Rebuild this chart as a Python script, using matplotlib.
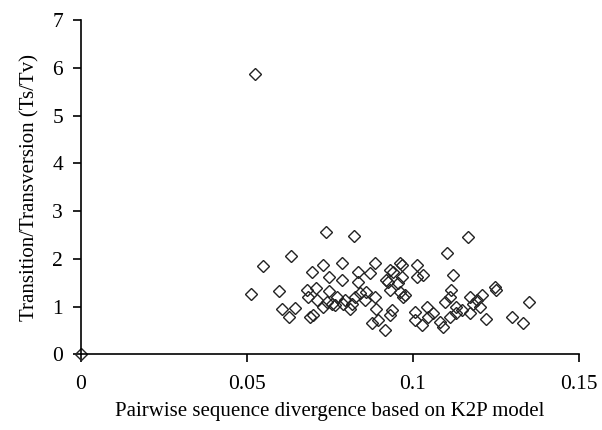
import matplotlib
matplotlib.use('Agg')
import matplotlib.pyplot as plt

plt.rcParams['font.family'] = ['Liberation Serif', 'DejaVu Serif']

# pairwise K2P divergence vs Ts/Tv ratio
divergence = [0.0, 0.0524, 0.0512, 0.0549, 0.0597, 0.0607, 0.0627, 0.0633, 0.0645, 0.0680,
              0.0684, 0.0690, 0.0695, 0.0700, 0.0707, 0.0712, 0.0730, 0.0730, 0.0737, 0.0740,
              0.0748, 0.0748, 0.0755, 0.0765, 0.0770, 0.0785, 0.0785, 0.0790, 0.0795, 0.0810,
              0.0815, 0.0822, 0.0825, 0.0835, 0.0835, 0.0842, 0.0855, 0.0860, 0.0870, 0.0876,
              0.0886, 0.0886, 0.0890, 0.0896, 0.0916, 0.0920, 0.0926, 0.0930, 0.0930, 0.0930,
              0.0936, 0.0940, 0.0956, 0.0961, 0.0961, 0.0966, 0.0966, 0.0971, 0.0976, 0.1006,
              0.1006, 0.1011, 0.1011, 0.1026, 0.1031, 0.1041, 0.1046, 0.1061, 0.1081, 0.1091,
              0.1096, 0.1104, 0.1111, 0.1111, 0.1116, 0.1120, 0.1131, 0.1131, 0.1147, 0.1165,
              0.1172, 0.1172, 0.1180, 0.1192, 0.1202, 0.1207, 0.1220, 0.1247, 0.1250, 0.1297,
              0.1332, 0.1350]
tstv = [0.00, 5.88, 1.27, 1.86, 1.32, 0.94, 0.79, 2.07, 0.98, 1.35,
        1.21, 0.79, 1.73, 0.82, 1.38, 1.14, 1.87, 1.00, 2.57, 1.10,
        1.63, 1.33, 1.05, 1.03, 1.20, 1.92, 1.56, 1.05, 1.14, 0.96,
        1.05, 2.47, 1.20, 1.73, 1.52, 1.28, 1.14, 1.30, 1.70, 0.65,
        1.91, 1.21, 0.96, 0.72, 0.52, 1.56, 1.52, 1.77, 1.35, 0.82,
        0.93, 1.73, 1.49, 1.91, 1.31, 1.63, 1.87, 1.21, 1.24, 0.89,
        0.72, 1.87, 1.63, 0.61, 1.66, 1.00, 0.79, 0.86, 0.68, 0.58,
        1.10, 2.13, 1.21, 0.79, 1.35, 1.66, 1.00, 0.86, 0.93, 2.45,
        1.21, 0.86, 1.05, 1.14, 1.00, 1.24, 0.73, 1.42, 1.35, 0.78,
        0.66, 1.10]

xticks = [0, 0.05, 0.1, 0.15]
xticklabels = ['0', '0.05', '0.1', '0.15']
yticks = [0, 1, 2, 3, 4, 5, 6, 7]

fig = plt.figure(figsize=(6.02, 4.30), dpi=100)
ax = fig.add_axes([0.1346, 0.176, 0.827, 0.7766])
ax.plot(divergence, tstv, linestyle='none', marker='D', markersize=6.5,
        markerfacecolor='none', markeredgecolor='#222222', markeredgewidth=1.0,
        clip_on=False)

ax.set_xlim(0, 0.15)
ax.set_ylim(0, 7)
ax.set_xticks(xticks)
ax.set_xticklabels(xticklabels)
ax.set_yticks(yticks)
for s in ['top', 'right']:
    ax.spines[s].set_visible(False)
for s in ['left', 'bottom']:
    ax.spines[s].set_linewidth(1.2)
ax.tick_params(axis='x', direction='out', length=6, width=1.2, labelsize=15.5, pad=9)
ax.tick_params(axis='y', direction='out', length=6, width=1.2, labelsize=15.5, pad=7)

ax.set_xlabel('Pairwise sequence divergence based on K2P model', fontsize=15, labelpad=6)
ax.set_ylabel('Transition/Transversion (Ts/Tv)', fontsize=15, labelpad=9)

fig.savefig('out.png', dpi=100)
